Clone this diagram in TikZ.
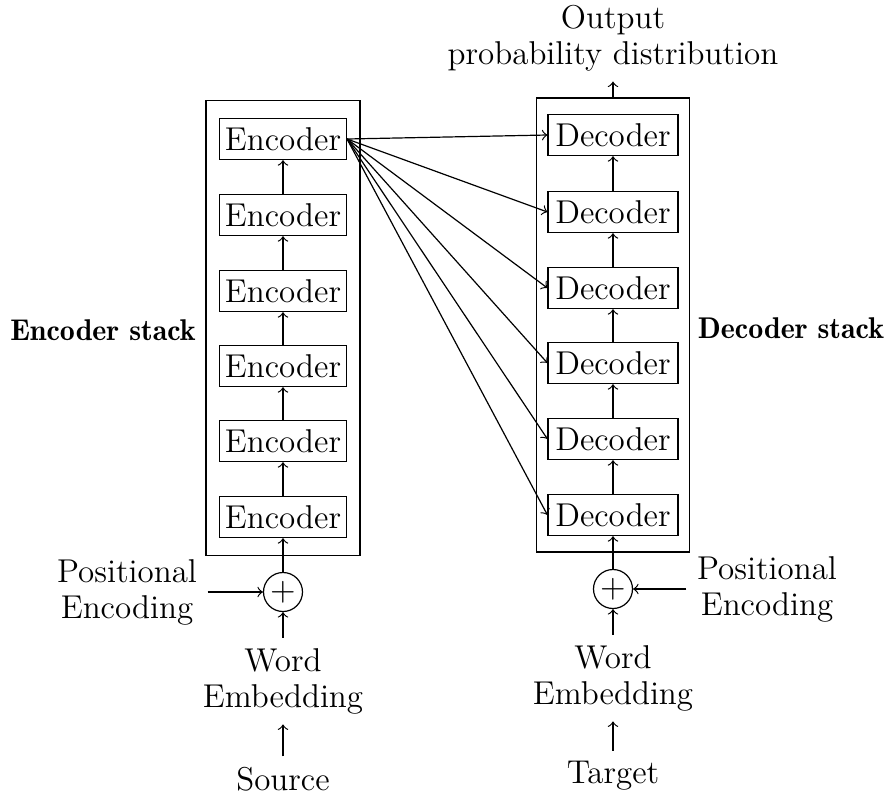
\documentclass[tikz,border=0pt]{standalone}
\usetikzlibrary{fit}
\begin{document}
\begin{tikzpicture}[x=0.3333pt,y=-0.3333pt,
  font=\fontsize{11}{12}\selectfont,
  blk/.style={draw, minimum height=13.7pt, inner sep=0pt},
  enc/.style={blk, minimum width=42.3pt},
  dec/.style={blk, minimum width=43.3pt},
  lbl/.style={align=center},
  stacklbl/.style={font=\fontsize{10}{12}\fontseries{b}\selectfont},
  sumnode/.style={draw, circle, minimum size=13pt, inner sep=0pt},
  >=to]
\useasboundingbox (0,0) rectangle (890,798);
\foreach \i/\y in {1/517,2/441,3/366,4/291,5/215,6/139}
  \node[enc] (e\i) at (283,\y) {Encoder};
\foreach \i/\y in {1/515,2/439,3/363,4/288,5/212,6/135}
  \node[dec] (d\i) at (613,\y) {Decoder};
\node[draw, fit=(e1)(e6), inner xsep=4.3pt, inner ysep=5.7pt] (encstack) {};
\node[draw, fit=(d1)(d6), inner xsep=3.7pt, inner ysep=5.3pt] (decstack) {};
\foreach \i [count=\j from 2] in {1,...,5} {
  \draw[->] (e\i.north) -- (e\j.south);
  \draw[->] (d\i.north) -- (d\j.south);
}
\foreach \i in {1,...,6}
  \draw[->] (e6.east) -- (d\i.west);
\node[stacklbl] (encl) at (103,330) {Encoder stack};
\node[stacklbl] (decl) at (791,328) {Decoder stack};
% encoder input
\node[sumnode] (se) at (283,592) {$+$};
\node[lbl] (pe1) at (127,592) {Positional\\Encoding};
\node[lbl] (we1) at (283,681) {Word\\Embedding};
\node (src) at (283,779) {Source};
\draw[->] (se) -- (e1.south);
\draw[->] (pe1) -- (se);
\draw[->] (we1) -- (se);
\draw[->] (src) -- (we1);
% decoder input
\node[sumnode] (sd) at (613,589) {$+$};
\node[lbl] (pe2) at (767,589) {Positional\\Encoding};
\node[lbl] (we2) at (613,678) {Word\\Embedding};
\node (tgt) at (613,776) {Target};
\draw[->] (sd) -- (d1.south);
\draw[->] (pe2) -- (sd);
\draw[->] (we2) -- (sd);
\draw[->] (tgt) -- (we2);
% output
\node[lbl] (out) at (613,38) {Output\\probability distribution};
\draw[->] (decstack.north) -- (out);
\end{tikzpicture}
\end{document}
